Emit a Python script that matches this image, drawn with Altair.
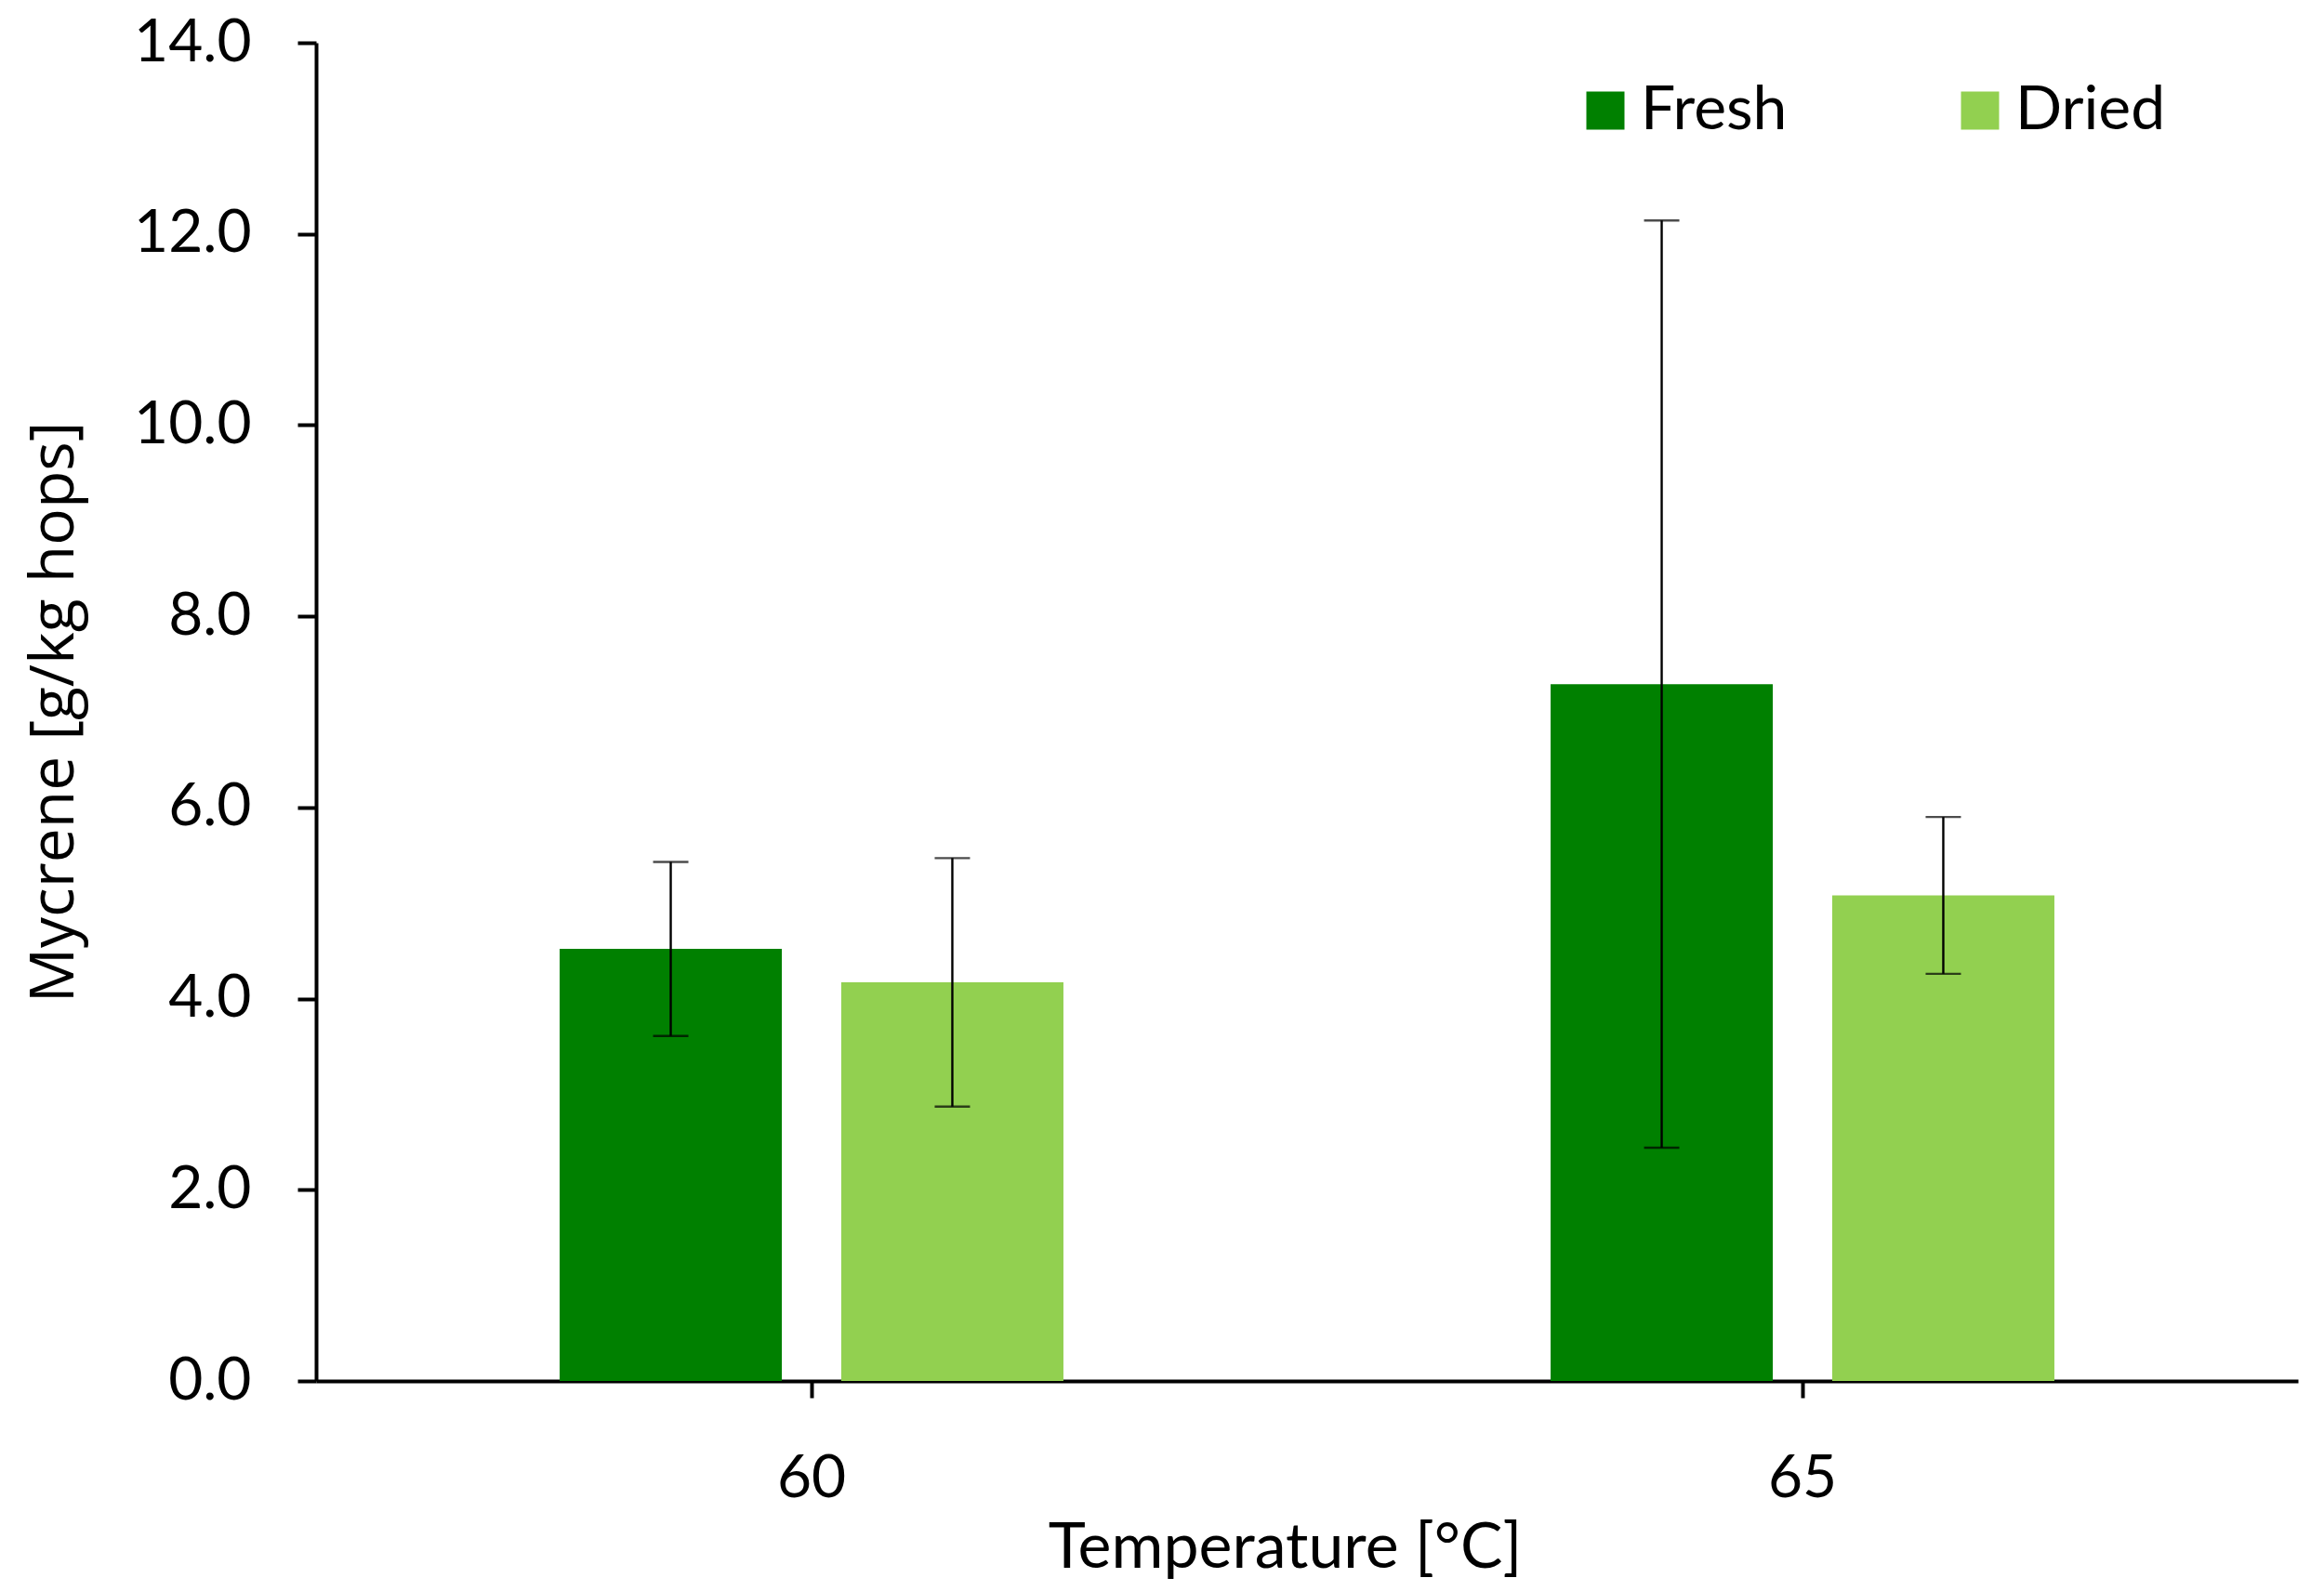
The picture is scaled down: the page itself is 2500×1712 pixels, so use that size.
import altair as alt
import pandas as pd

temperatures = ["60", "65"]
series = ["Fresh", "Dried"]
fresh_mean = [4.52, 7.29]
fresh_err = [0.91, 4.85]
dried_mean = [4.17, 5.08]
dried_err = [1.30, 0.82]
colors = ["#008000", "#92D050"]
y_ticks = [0, 2, 4, 6, 8, 10, 12, 14]

rows = []
for i, t in enumerate(temperatures):
    for name, m, e in (("Fresh", fresh_mean, fresh_err), ("Dried", dried_mean, dried_err)):
        rows.append({"temp": t, "kind": name, "mean": m[i], "lo": m[i] - e[i], "hi": m[i] + e[i]})
df = pd.DataFrame(rows)

common_axis = dict(grid=False, domainColor="black", domainWidth=4, tickColor="black", tickWidth=4,
                   labelColor="black", titleColor="black")

x_axis = alt.Axis(
    labelAngle=0, tickSize=18, labelPadding=55, labelFont="Lato", labelFontSize=64,
    titleFont="Lato", titleFontSize=68, titleFontWeight="normal",
    titleX=1042, titleY=200, titleBaseline="alphabetic", titleAlign="center", **common_axis,
)
y_axis = alt.Axis(
    values=y_ticks, format=".1f", tickSize=20, labelPadding=50, labelFont="Lato", labelFontSize=64,
    titleFont="Open Sans", titleFontSize=66, titleFontWeight="normal",
    titleX=-262, titleY=720, titleAngle=270, titleBaseline="alphabetic", titleAlign="center",
    **common_axis,
)
x_enc = alt.X("temp:N", sort=temperatures, scale=alt.Scale(paddingInner=0, paddingOuter=0),
              axis=x_axis, title="Temperature [°C]")
xo_enc = alt.XOffset("kind:N", sort=series,
                     scale=alt.Scale(domain=series, paddingInner=0.211, paddingOuter=0.865))
y_scale = alt.Scale(domain=[0, 14], nice=False)
title_y = "Mycrene [g/kg hops]"

base = alt.Chart(df)

bars = base.mark_bar().encode(
    x=x_enc, xOffset=xo_enc,
    y=alt.Y("mean:Q", scale=y_scale, axis=y_axis, title=title_y),
    color=alt.Color("kind:N", sort=series, scale=alt.Scale(domain=series, range=colors),
                    legend=alt.Legend(orient="none", legendX=1354, legendY=40, direction="horizontal",
                                      symbolType="square", symbolSize=1681, symbolStrokeWidth=0,
                                      labelFont="Lato", labelFontSize=66, labelOffset=5,
                                      labelColor="black",
                                      columnPadding=174, padding=0, title=None, labelLimit=600)),
)
rules = base.mark_rule(color="black", strokeWidth=2.4).encode(
    x=x_enc, xOffset=xo_enc,
    y=alt.Y("lo:Q", scale=y_scale, axis=y_axis, title=title_y), y2="hi:Q",
)
caps_hi = base.mark_tick(color="black", orient="horizontal", size=38, thickness=2.4).encode(
    x=x_enc, xOffset=xo_enc, y=alt.Y("hi:Q", scale=y_scale, axis=y_axis, title=title_y),
)
caps_lo = base.mark_tick(color="black", orient="horizontal", size=38, thickness=2.4).encode(
    x=x_enc, xOffset=xo_enc, y=alt.Y("lo:Q", scale=y_scale, axis=y_axis, title=title_y),
)

chart = alt.layer(bars, rules, caps_hi, caps_lo).properties(
    width=2132, height=1440,
    background="white",
    autosize=alt.AutoSizeParams(type="none"),
    padding={"left": 332, "top": 38, "right": 20, "bottom": 218},
).configure_view(stroke=None).configure_axis(**common_axis)

chart.save("out.html", embed_options={"renderer": "svg", "actions": False})
